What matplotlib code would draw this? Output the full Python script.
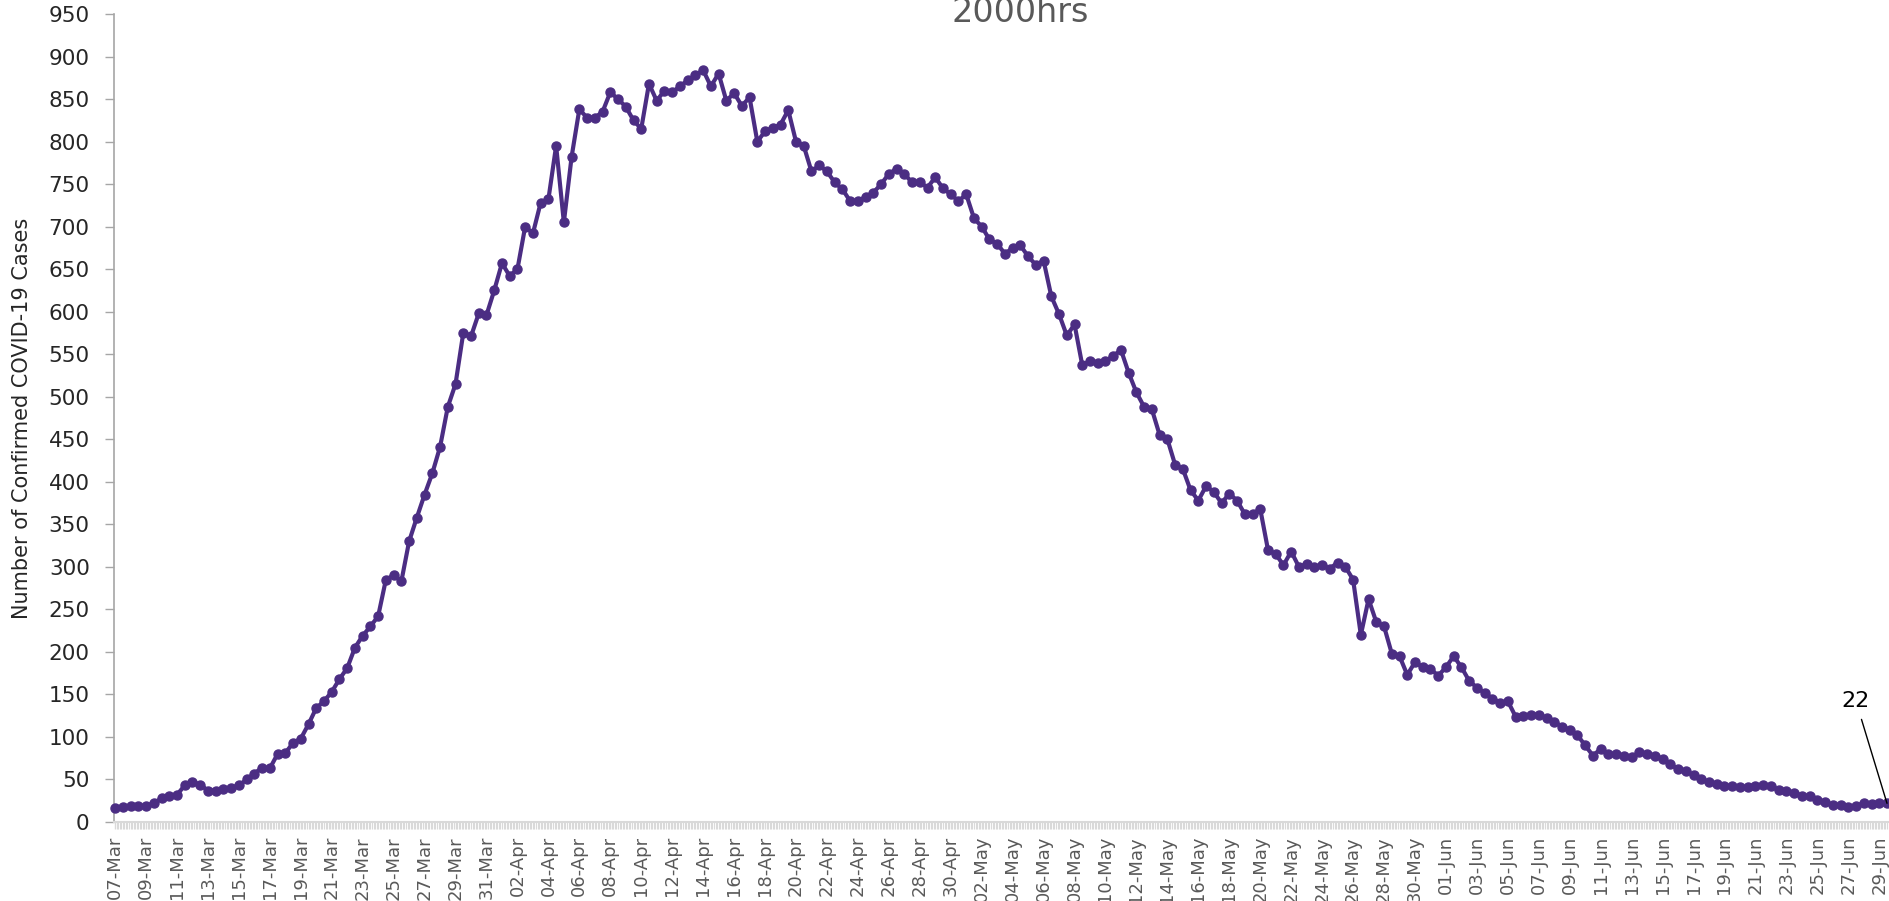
import numpy as np
import pandas as pd
import matplotlib.pyplot as plt
from matplotlib.ticker import MultipleLocator

# casos confirmados, dois valores por dia a partir de 07-Mar
start_date = '2020-03-07'
cases = [
    17, 18, 18.5, 18.5, 19, 22, 28, 31, 32, 43,
    47, 44, 37, 37, 39, 40, 43, 50, 57, 64,
    63, 80, 81, 93, 98, 115, 134, 142, 153, 168,
    181, 205, 219, 230, 242, 285, 290, 283, 330, 358,
    385, 410, 441, 488, 515, 575, 571, 598, 596, 625,
    657, 642, 650, 700, 692, 728, 732, 795, 705, 782,
    838, 828, 828, 835, 858, 850, 841, 825, 815, 868,
    848, 860, 858, 865, 872, 878, 884, 865, 880, 848,
    857, 842, 852, 800, 812, 816, 820, 837, 800, 795,
    765, 772, 765, 752, 744, 730, 730, 735, 740, 750,
    762, 768, 762, 752, 752, 746, 758, 745, 738, 730,
    738, 710, 700, 685, 680, 668, 675, 678, 665, 655,
    660, 618, 597, 572, 585, 537, 542, 540, 542, 548,
    555, 528, 505, 488, 485, 455, 450, 420, 415, 390,
    378, 395, 388, 375, 386, 378, 362, 362, 368, 320,
    315, 302, 318, 300, 303, 300, 302, 298, 305, 300,
    285, 220, 262, 235, 230, 198, 195, 173, 188, 182,
    180, 172, 182, 195, 182, 166, 158, 152, 145, 140,
    142, 124, 125, 126, 126, 122, 118, 112, 108, 102,
    90, 78, 86, 80, 80, 78, 76, 82, 80, 78,
    74, 68, 62, 60, 55, 50, 47, 45, 42, 42,
    41, 41, 42, 44, 42, 38, 37, 34, 31, 30,
    26, 23, 20, 20, 18, 19, 22, 21, 22, 22,
]
points_per_day = 2
tick_dates = pd.date_range(start_date, '2020-06-29', freq='2D')
tick_labels = list(tick_dates.strftime('%d-%b'))
y_ticks = list(range(0, 951, 50))

line_color = '#4b2d83'

days = np.arange(len(cases)) / points_per_day
tick_pos = (tick_dates - pd.Timestamp(start_date)).days

fig = plt.figure(figsize=(18.89, 9.01), dpi=100)
ax = fig.add_axes([114 / 1889, 79 / 901, (1889 - 114) / 1889, (822 - 14) / 901])

ax.plot(days, cases, color=line_color, linewidth=3, marker='o',
        markersize=6.5, clip_on=False, zorder=3)

ax.set_xlim(-0.07, 114.63)
ax.set_ylim(0, 950)
ax.set_yticks(y_ticks)
ax.set_xticks(tick_pos)
ax.set_xticklabels(tick_labels, rotation=90, fontsize=13, color='#595959')
ax.xaxis.set_minor_locator(MultipleLocator(0.1))

ax.tick_params(axis='y', labelsize=15.5, labelcolor='#262626', color='#a6a6a6',
               length=6.5, width=1, pad=11)
ax.tick_params(axis='x', which='major', color='#d9d9d9', length=5, width=1, pad=5)
ax.tick_params(axis='x', which='minor', color='#d9d9d9', length=5, width=0.8)

for side in ['top', 'right']:
    ax.spines[side].set_visible(False)
ax.spines['left'].set_color('#a6a6a6')
ax.spines['left'].set_linewidth(1.2)
ax.spines['bottom'].set_color('#d9d9d9')
ax.spines['bottom'].set_linewidth(1.5)

ax.set_ylabel('Number of Confirmed COVID-19 Cases', fontsize=15, color='#262626')
ax.yaxis.set_label_coords(-0.046, 0.5)

fig.text(0.54, 1 - 22 / 901, '2000hrs', fontsize=24, color='#595959',
         ha='center', va='baseline')

ax.annotate(f'{cases[-1]:g}', xy=(days[-1], cases[-1]), xytext=(-31, 102),
            textcoords='offset pixels', fontsize=16, color='black',
            ha='center', va='center',
            arrowprops=dict(arrowstyle='-', color='black', lw=1,
                            shrinkA=4, shrinkB=0))

fig.savefig('out.png', dpi=100)
